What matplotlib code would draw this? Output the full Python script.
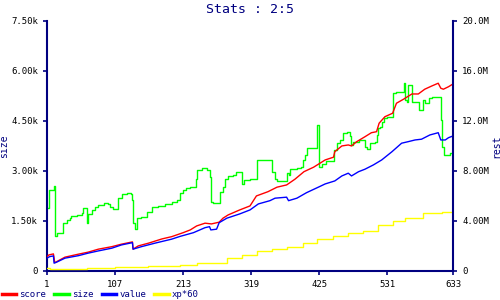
import matplotlib
matplotlib.use("Agg")
import matplotlib.pyplot as plt

plt.rcParams["font.family"] = ["DejaVu Sans Mono"]

NAVY = "#000080"

# size (left axis)
size_idx = [1, 4, 12, 13, 16, 26, 32, 37, 39, 47, 55, 57, 61, 63, 65, 71, 76, 81, 89, 96,
            99, 104, 111, 112, 117, 125, 132, 134, 135, 138, 141, 148, 156, 164, 174, 185,
            195, 203, 208, 213, 218, 224, 231, 233, 235, 242, 250, 254, 257, 260, 269, 270,
            275, 278, 283, 291, 295, 303, 304, 307, 317, 328, 351, 352, 356, 359, 374, 377,
            379, 390, 397, 400, 403, 406, 416, 421, 422, 423, 425, 429, 436, 447, 448, 452,
            457, 462, 468, 473, 474, 478, 486, 493, 496, 499, 504, 512, 514, 516, 519, 522,
            525, 530, 538, 540, 545, 556, 557, 559, 561, 563, 568, 569, 578, 580, 585, 587,
            589, 595, 600, 613, 614, 616, 619, 626, 628, 631, 633]
size_val = [1890, 2430, 2550, 1050, 1140, 1440, 1530, 1590, 1650, 1680, 1740, 1890, 1890,
            1440, 1710, 1830, 1920, 1980, 2040, 2010, 1920, 1860, 1860, 2190, 2310, 2340,
            2310, 2130, 1440, 1260, 1590, 1620, 1770, 1920, 1950, 2010, 2070, 2130, 2340,
            2430, 2490, 2520, 2520, 2760, 3030, 3090, 3030, 2820, 2070, 2040, 2040, 2370,
            2520, 2760, 2850, 2880, 2970, 2970, 2610, 2730, 2760, 3330, 3330, 2970, 2760,
            2700, 2940, 2880, 3060, 3090, 3120, 3330, 3480, 3690, 3690, 3990, 4380, 4380,
            3120, 3210, 3300, 3390, 3630, 3840, 3930, 4140, 4170, 4050, 3780, 3870, 3930,
            3930, 3720, 3660, 3840, 3870, 4080, 4290, 4320, 4470, 4590, 4620, 4620, 5340,
            5370, 5370, 5640, 5130, 5070, 5580, 5580, 5070, 5070, 4830, 4830, 5130, 5040,
            5190, 5220, 5220, 4530, 3720, 3480, 3480, 3540, 3540, 3780]

# score (right axis, millions)
score_idx = [1, 4, 11, 12, 13, 16, 29, 50, 65, 81, 102, 117, 134, 135, 143, 159, 180, 195,
             213, 224, 234, 247, 257, 269, 275, 283, 301, 317, 327, 345, 359, 374, 387, 401,
             416, 426, 434, 447, 449, 460, 470, 475, 483, 496, 506, 514, 518, 527, 539, 545,
             556, 569, 579, 589, 600, 610, 614, 618, 626, 633]
score_val = [1.14, 1.28, 1.36, 1.04, 0.66, 0.74, 1.10, 1.34, 1.50, 1.74, 1.94, 2.14, 2.32,
             1.74, 2.00, 2.22, 2.56, 2.74, 3.06, 3.28, 3.60, 3.82, 3.76, 3.90, 4.22, 4.48,
             4.88, 5.20, 6.00, 6.34, 6.70, 6.88, 7.34, 7.94, 8.30, 8.62, 8.88, 9.10, 9.54,
             10.0, 10.08, 10.0, 10.34, 10.74, 11.06, 11.14, 11.82, 12.34, 12.62, 13.42,
             13.74, 14.16, 14.16, 14.54, 14.80, 15.02, 14.62, 14.54, 14.74, 14.96]

# value (right axis, millions)
value_idx = [1, 5, 11, 12, 16, 29, 50, 65, 81, 102, 117, 134, 135, 148, 169, 195, 208, 229,
             247, 254, 256, 265, 269, 281, 301, 317, 330, 348, 356, 374, 377, 390, 405, 425,
             434, 449, 460, 470, 475, 486, 496, 509, 522, 538, 553, 563, 574, 584, 597, 610,
             614, 621, 626, 633]
value_val = [1.02, 1.14, 1.20, 0.62, 0.70, 1.02, 1.22, 1.42, 1.60, 1.82, 2.08, 2.26, 1.74,
             1.94, 2.22, 2.54, 2.76, 3.06, 3.46, 3.54, 3.28, 3.34, 3.86, 4.22, 4.56, 4.88,
             5.36, 5.62, 5.82, 5.90, 5.62, 5.82, 6.26, 6.74, 6.96, 7.20, 7.60, 7.82, 7.60,
             7.94, 8.14, 8.48, 8.88, 9.54, 10.22, 10.34, 10.48, 10.54, 10.88, 11.06, 10.48,
             10.48, 10.66, 10.80]

# xp*60 (right axis, millions)
xp_idx = [1, 5, 63, 107, 158, 208, 234, 281, 304, 328, 351, 375, 400, 421, 446, 470, 493,
          516, 540, 558, 586, 616, 633]
xp_val = [0.22, 0.14, 0.22, 0.34, 0.40, 0.48, 0.66, 1.02, 1.28, 1.58, 1.72, 1.94, 2.22,
          2.54, 2.82, 3.02, 3.20, 3.68, 4.02, 4.22, 4.62, 4.70, 4.70]

x_ticks = [1, 107, 213, 319, 425, 531, 633]
left_ticks = [0, 1500, 3000, 4500, 6000, 7500]
left_labels = ["0", "1.50k", "3.00k", "4.50k", "6.00k", "7.50k"]
right_ticks = [0, 4, 8, 12, 16, 20]
right_labels = ["0", "4.00M", "8.00M", "12.0M", "16.0M", "20.0M"]

fig = plt.figure(figsize=(5, 3), dpi=100)
ax = fig.add_axes([0.094, 0.097, 0.812, 0.833])
ax2 = ax.twinx()

l_size, = ax.plot(size_idx, size_val, color="#00ff00", lw=1.0, drawstyle="steps-post", label="size")
l_score, = ax2.plot(score_idx, score_val, color="#ff0000", lw=1.0, label="score")
l_value, = ax2.plot(value_idx, value_val, color="#0000ff", lw=1.0, label="value")
l_xp, = ax2.plot(xp_idx, xp_val, color="#ffff00", lw=1.0, drawstyle="steps-post", label="xp*60")

ax.set_xlim(1, 633)
ax.set_ylim(0, 7500)
ax2.set_ylim(0, 20)
ax.set_xticks(x_ticks)
ax.set_xticklabels([str(t) for t in x_ticks])
ax.set_yticks(left_ticks)
ax.set_yticklabels(left_labels)
ax2.set_yticks(right_ticks)
ax2.set_yticklabels(right_labels)

for a in (ax, ax2):
    for s in a.spines.values():
        s.set_visible(False)
    a.tick_params(colors=NAVY, labelcolor="black", labelsize=6.5, length=3, width=1.2)
ax.spines["left"].set_visible(True)
ax.spines["bottom"].set_visible(True)
ax2.spines["right"].set_visible(True)
for s in (ax.spines["left"], ax.spines["bottom"], ax2.spines["right"]):
    s.set_color(NAVY)
    s.set_linewidth(1.5)

ax.set_ylabel("size", color=NAVY, fontsize=7)
ax2.set_ylabel("rest", color=NAVY, fontsize=7)
ax.yaxis.set_label_coords(-0.094, 0.5)
ax2.yaxis.set_label_coords(1.094, 0.5)
ax.set_title("Stats : 2:5", color=NAVY, fontsize=9.5, pad=6)

leg = fig.legend([l_score, l_size, l_value, l_xp], ["score", "size", "value", "xp*60"],
                 loc="center left", bbox_to_anchor=(0.0, 0.017), ncol=4, frameon=False,
                 fontsize=6.5, handlelength=1.6, handletextpad=0.35, columnspacing=0.9,
                 borderpad=0.2, borderaxespad=0)
for t in leg.get_texts():
    t.set_color(NAVY)
for h in leg.get_lines():
    h.set_linewidth(2.5)

fig.savefig("out.png", dpi=100)
